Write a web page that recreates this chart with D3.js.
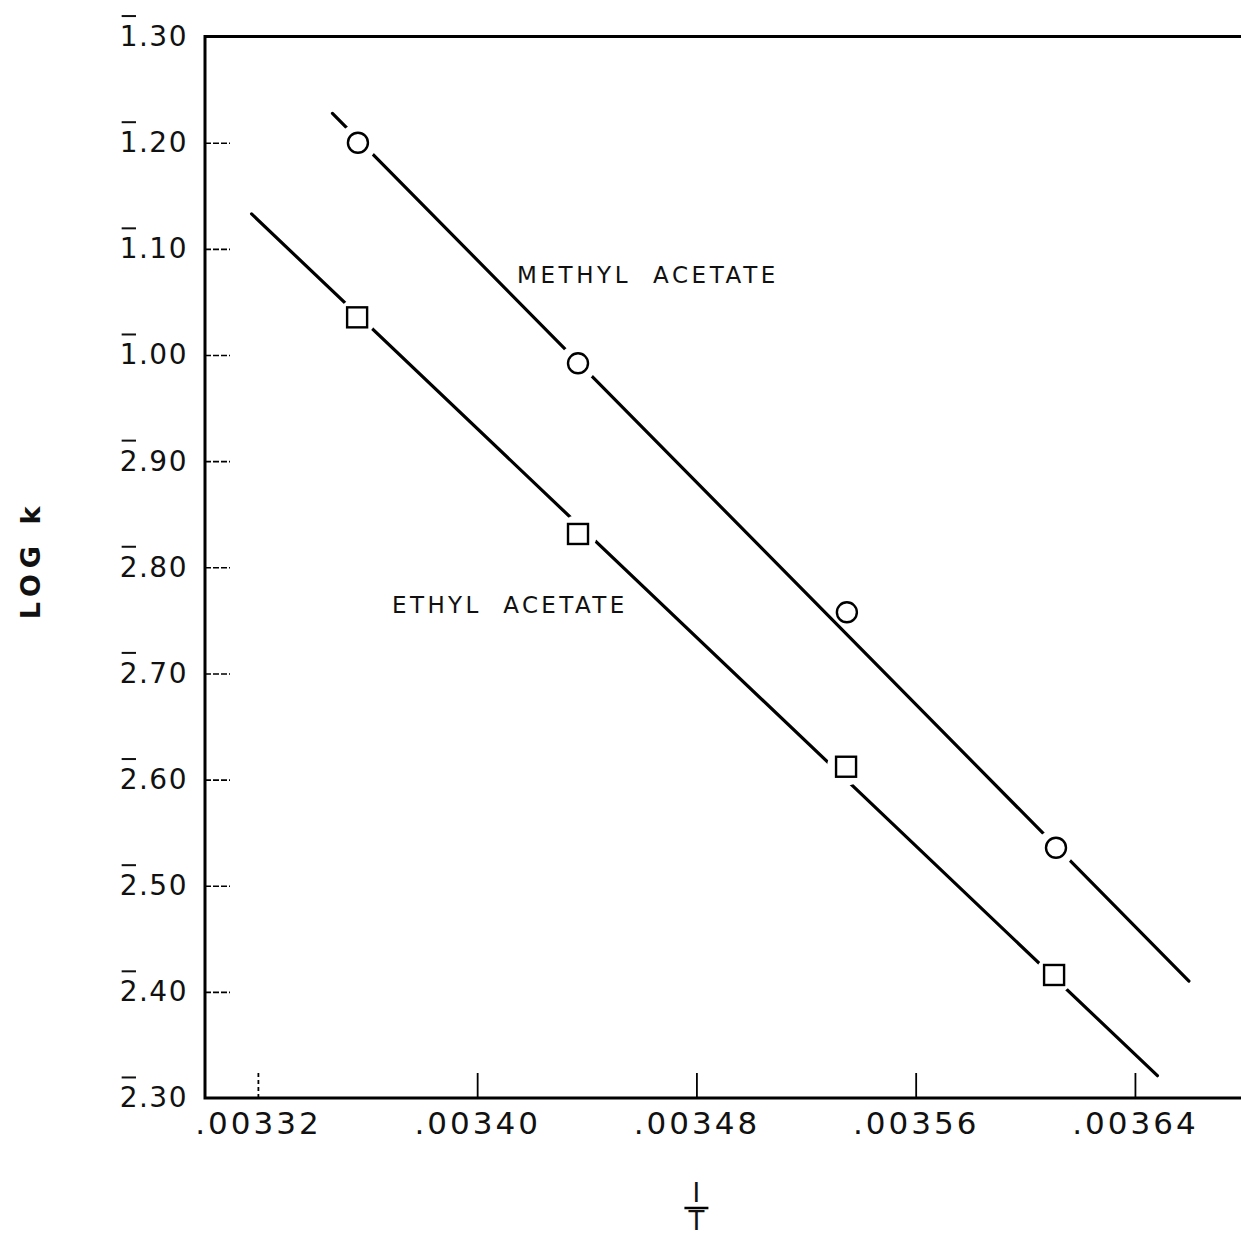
<!DOCTYPE html>
<html>
<head>
<meta charset="utf-8">
<script src="https://cdn.jsdelivr.net/npm/d3@7"></script>
<style>
  body { margin: 0; background: #fff; }
  text { font-family: "DejaVu Sans", sans-serif; fill: #111; }
</style>
</head>
<body>
<div id="chart"></div>
<script>
// log k written with bar notation: bar-1.30 = -0.70, bar-2.30 = -1.70
// the bar over the first digit is drawn separately
var yTicks = [-0.7, -0.8, -0.9, -1.0, -1.1, -1.2, -1.3, -1.4, -1.5, -1.6, -1.7]
var yTickLabels = ['1.30', '1.20', '1.10', '1.00', '2.90', '2.80',
                   '2.70', '2.60', '2.50', '2.40', '2.30']
var xTicks = [0.00332, 0.00340, 0.00348, 0.00356, 0.00364]
var xTickLabels = ['.00332', '.00340', '.00348', '.00356', '.00364']

// measured points (1/T, log k)
var methylX = [0.0033565, 0.0034368, 0.0035349, 0.0036112]
var methylY = [-0.8000, -1.0078, -1.2424, -1.4642]
var ethylX = [0.0033562, 0.0034368, 0.0035346, 0.0036105]
var ethylY = [-0.9645, -1.1686, -1.3879, -1.5841]

// drawn straight lines, ends
var methylLineX = [0.0033472, 0.0036597]
var methylLineY = [-0.7723, -1.5898]
var ethylLineX = [0.0033177, 0.0036482]
var ethylLineY = [-0.8671, -1.6790]

var margin = {top: 36.6, right: 0, bottom: 138, left: 205}
var width = 1241 - margin.left - margin.right
var height = 1236 - margin.top - margin.bottom

var xPositionScale = d3.scaleLinear().domain([0.0033007, 0.0036787]).range([0, width])
var yPositionScale = d3.scaleLinear().domain([-1.7, -0.7]).range([height, 0])

var svg = d3.select("#chart")
  .append('svg')
  .attr('width', 1241)
  .attr('height', 1236)
  .append("g")
  .attr("transform", "translate(" + margin.left + "," + margin.top + ")")

// axes, ticks point inward
var yAxis = d3.axisLeft(yPositionScale)
  .tickValues(yTicks)
  .tickFormat((d, i) => yTickLabels[i])
  .tickSize(-25)
  .tickPadding(17)
var yG = svg.append("g").attr("class", "axis axis-y").call(yAxis)
yG.select('.domain').remove()
yG.selectAll('line')
  .attr('stroke-width', 1.6)
  .attr('stroke-dasharray', '6,2')
  .attr('opacity', (d, i) => (i === 0 || i === yTicks.length - 1) ? 0 : 1)
yG.selectAll('text')
  .attr('font-size', 28)
  .attr('letter-spacing', 1.5)
  .attr('font-family', '"DejaVu Sans", sans-serif')

// bar over the characteristic digit
yG.selectAll('.tick').each(function() {
  var t = d3.select(this).select('text')
  var box = t.node().getExtentOfChar(0)
  d3.select(this).append('line')
    .attr('x1', box.x + 2).attr('x2', box.x + box.width - 3)
    .attr('y1', box.y - 4).attr('y2', box.y - 4)
    .attr('stroke', '#111')
    .attr('stroke-width', 2)
})

var xAxis = d3.axisBottom(xPositionScale)
  .tickValues(xTicks)
  .tickFormat((d, i) => xTickLabels[i])
  .tickSize(-25)
  .tickPadding(14)
var xG = svg.append("g")
  .attr("class", "axis axis-x")
  .attr("transform", "translate(0," + height + ")")
  .call(xAxis)
xG.select('.domain').remove()
xG.selectAll('line')
  .attr('stroke-width', 1.8)
  .attr('stroke-dasharray', (d, i) => i === 0 ? '4,3' : null)
xG.selectAll('text')
  .attr('font-size', 31)
  .attr('letter-spacing', 3)
  .attr('font-family', '"DejaVu Sans", sans-serif')

// frame: top, left, bottom
svg.append('path')
  .attr('d', 'M' + width + ',0H0V' + height + 'H' + width)
  .attr('fill', 'none')
  .attr('stroke', '#000')
  .attr('stroke-width', 3)

var line = d3.line()
  .x(d => xPositionScale(d[0]))
  .y(d => yPositionScale(d[1]))

var series = [
  {name: 'methyl', lx: methylLineX, ly: methylLineY, px: methylX, py: methylY, shape: 'circle'},
  {name: 'ethyl', lx: ethylLineX, ly: ethylLineY, px: ethylX, py: ethylY, shape: 'square'}
]

series.forEach(function(s) {
  var pts = d3.zip(s.lx, s.ly)
  svg.append('path')
    .datum(pts)
    .attr('d', line)
    .attr('fill', 'none')
    .attr('stroke', '#000')
    .attr('stroke-width', 3.2)
    .attr('stroke-linecap', 'round')

  // pixel line for gap test
  var ax = xPositionScale(s.lx[0]), ay = yPositionScale(s.ly[0])
  var bx = xPositionScale(s.lx[1]), by = yPositionScale(s.ly[1])
  var len = Math.hypot(bx - ax, by - ay)

  var marks = svg.append('g').attr('class', 'marks-' + s.name)
    .selectAll('g')
    .data(d3.zip(s.px, s.py))
    .enter().append('g')
    .attr('transform', d => 'translate(' + xPositionScale(d[0]) + ',' + yPositionScale(d[1]) + ')')

  // white gap where the line runs through a marker
  marks.filter(function(d) {
      var px = xPositionScale(d[0]), py = yPositionScale(d[1])
      var dist = Math.abs((bx - ax) * (ay - py) - (ax - px) * (by - ay)) / len
      return dist < 12
    })
    .append('circle')
    .attr('r', 19)
    .attr('fill', '#fff')

  if (s.shape === 'circle') {
    marks.append('circle')
      .attr('r', 10)
      .attr('fill', '#fff')
      .attr('stroke', '#000')
      .attr('stroke-width', 2.4)
  } else {
    marks.append('rect')
      .attr('x', -10).attr('y', -10)
      .attr('width', 20).attr('height', 20)
      .attr('fill', '#fff')
      .attr('stroke', '#000')
      .attr('stroke-width', 2.4)
  }
})

// labels on the curves
svg.append('text')
  .attr('x', 517 - margin.left)
  .attr('y', 283 - margin.top)
  .attr('font-size', 23)
  .attr('letter-spacing', 3.6)
  .attr('xml:space', 'preserve')
  .text('METHYL  ACETATE')

svg.append('text')
  .attr('x', 392 - margin.left)
  .attr('y', 613 - margin.top)
  .attr('font-size', 23)
  .attr('letter-spacing', 3.4)
  .attr('xml:space', 'preserve')
  .text('ETHYL  ACETATE')

// axis titles
svg.append('text')
  .attr('transform', 'translate(' + (40 - margin.left) + ',' + (560 - margin.top) + ') rotate(-90)')
  .attr('text-anchor', 'middle')
  .attr('font-size', 27)
  .attr('font-weight', 'bold')
  .attr('letter-spacing', 6)
  .attr('xml:space', 'preserve')
  .text('LOG k')

var fx = xPositionScale(0.00348)
svg.append('text')
  .attr('x', fx).attr('y', 1202 - margin.top)
  .attr('text-anchor', 'middle')
  .attr('font-size', 26)
  .text('I')
svg.append('line')
  .attr('x1', fx - 12).attr('x2', fx + 12)
  .attr('y1', 1208 - margin.top).attr('y2', 1208 - margin.top)
  .attr('stroke', '#000')
  .attr('stroke-width', 2.5)
svg.append('text')
  .attr('x', fx).attr('y', 1230 - margin.top)
  .attr('text-anchor', 'middle')
  .attr('font-size', 26)
  .text('T')
</script>
</body>
</html>
